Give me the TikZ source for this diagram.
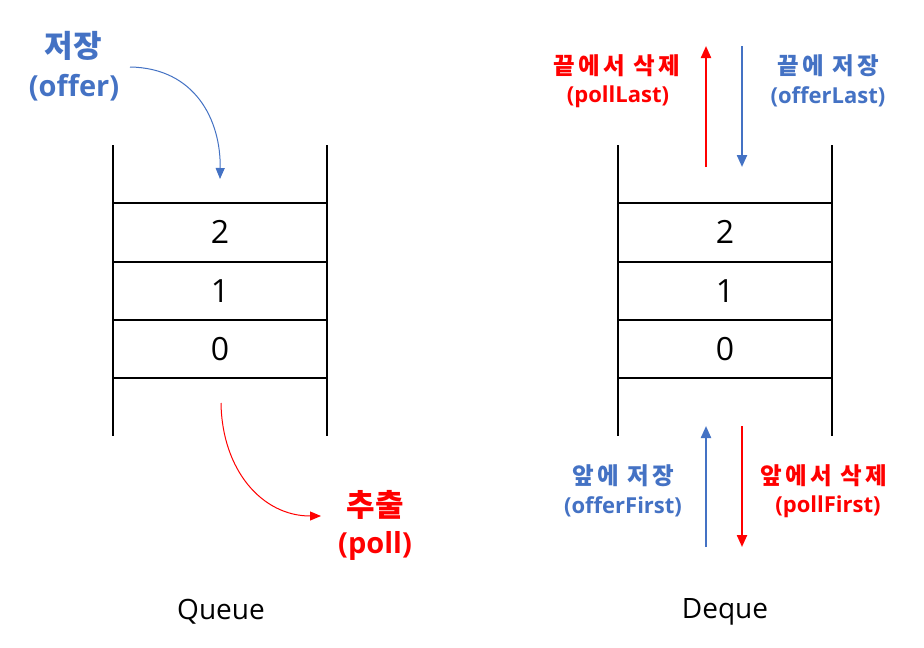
\documentclass[tikz,border=0pt]{standalone}
\usepackage{fontspec}
\setmainfont{Open Sans}
\newfontfamily\kr{Noto Sans CJK KR}
\newfontfamily\krwide[LetterSpace=14]{Noto Sans CJK KR}
\usetikzlibrary{arrows.meta}
\definecolor{myblue}{HTML}{4472C4}
\definecolor{myred}{HTML}{FF0000}
\begin{document}
\begin{tikzpicture}[x=1pt,y=-1pt,
  wall/.style={line width=1.8pt,black},
  num/.style={font=\fontsize{32}{36}\selectfont,inner sep=0pt},
  title/.style={font=\fontsize{28}{32}\selectfont,inner sep=0pt},
  bigkr/.style={font=\kr\bfseries\fontsize{31}{36}\selectfont,inner sep=0pt},
  biglat/.style={font=\bfseries\fontsize{29}{34}\selectfont,inner sep=0pt},
  smallkr/.style={font=\krwide\bfseries\fontsize{23.5}{28}\selectfont,inner sep=0pt},
  smalllat/.style={font=\bfseries\fontsize{22}{26}\selectfont,inner sep=0pt},
  curvearrow/.style={line width=1pt,-{Triangle[length=11pt,width=9pt]}},
  straightarrow/.style={line width=2.2pt,-{Triangle[length=12pt,width=10pt]}}]
\useasboundingbox (0,0) rectangle (924,648);
\fill[white] (0,0) rectangle (924,648);
% Queue stack
\foreach \x in {113,327} \draw[wall] (\x,145) -- (\x,436);
\foreach \y in {203,262,320,378} \draw[wall] (113,\y) -- (327,\y);
\node[num] (q2) at (220,232) {2};
\node[num] (q1) at (220,291) {1};
\node[num] (q0) at (220,349) {0};
\node[title] (qt) at (221,612) {Queue};
% Deque stack
\foreach \x in {618,832} \draw[wall] (\x,145) -- (\x,436);
\foreach \y in {203,262,320,378} \draw[wall] (618,\y) -- (832,\y);
\node[num] (d2) at (725,232) {2};
\node[num] (d1) at (725,291) {1};
\node[num] (d0) at (725,349) {0};
\node[title] (dt) at (725,612) {Deque};
% Queue labels
\node[bigkr,text=myblue] (offerk) at (73,46) {저장};
\node[biglat,text=myblue] (offerl) at (74,88) {(offer)};
\node[bigkr,text=myred] (pollk) at (375,505) {추출};
\node[biglat,text=myred] (polll) at (375,546) {(poll)};
\coordinate (oa) at (130,67);
\coordinate (ob) at (220,179);
\coordinate (pa) at (221,403);
\coordinate (pb) at (321,516);
\draw[curvearrow,myblue] (oa) .. controls (195,68) and (221,120) .. (ob);
\draw[curvearrow,myred] (pa) .. controls (222,470) and (262,516) .. (pb);
% Deque labels
\node[smallkr,text=myred] (plk) at (617,66) {끝에서 삭제};
\node[smalllat,text=myred] (pll) at (618,97) {(pollLast)};
\node[smallkr,text=myblue] (olk) at (828,66) {끝에 저장};
\node[smalllat,text=myblue] (oll) at (828,97) {(offerLast)};
\node[smallkr,text=myblue] (ofk) at (623,476) {앞에 저장};
\node[smalllat,text=myblue] (ofl) at (623,507) {(offerFirst)};
\node[smallkr,text=myred] (pfk) at (824,476) {앞에서 삭제};
\node[smalllat,text=myred] (pfl) at (828,507) {(pollFirst)};
\coordinate (t1a) at (706,167); \coordinate (t1b) at (706,46);
\coordinate (t2a) at (742,46); \coordinate (t2b) at (742,167);
\coordinate (b1a) at (706,547); \coordinate (b1b) at (706,426);
\coordinate (b2a) at (742,426); \coordinate (b2b) at (742,547);
\draw[straightarrow,myred] (t1a) -- (t1b);
\draw[straightarrow,myblue] (t2a) -- (t2b);
\draw[straightarrow,myblue] (b1a) -- (b1b);
\draw[straightarrow,myred] (b2a) -- (b2b);
\end{tikzpicture}
\end{document}
